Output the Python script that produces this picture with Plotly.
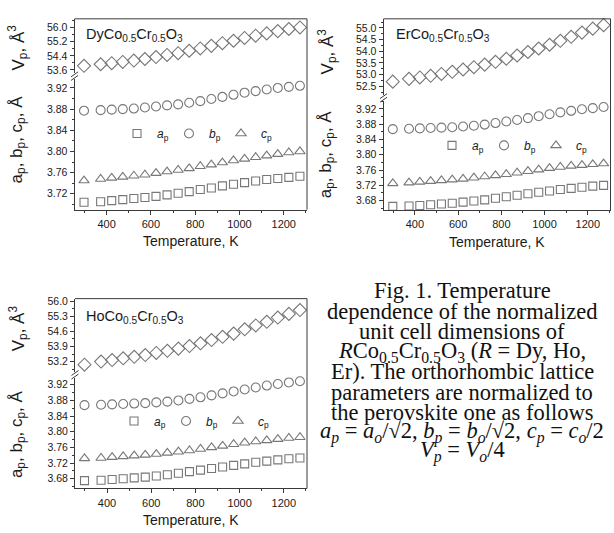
import plotly.graph_objects as go

W, H = 614, 533

# ---------------- data ----------------
temperature = [298, 373, 423, 473, 523, 573, 623, 673, 723, 773,
               823, 873, 923, 973, 1023, 1073, 1123, 1173, 1223, 1273]

dy_a = [3.704, 3.705, 3.707, 3.709, 3.711, 3.713, 3.715, 3.718, 3.721, 3.724,
        3.728, 3.731, 3.735, 3.738, 3.741, 3.744, 3.747, 3.749, 3.751, 3.753]
dy_b = [3.877, 3.878, 3.879, 3.880, 3.881, 3.883, 3.885, 3.887, 3.889, 3.892,
        3.895, 3.899, 3.903, 3.907, 3.911, 3.914, 3.917, 3.920, 3.922, 3.924]
dy_c = [3.745, 3.748, 3.750, 3.752, 3.754, 3.756, 3.759, 3.762, 3.765, 3.768,
        3.772, 3.775, 3.779, 3.783, 3.786, 3.789, 3.792, 3.795, 3.798, 3.800]
dy_V = [53.83, 53.92, 53.98, 54.05, 54.13, 54.22, 54.33, 54.45, 54.55, 54.69,
        54.82, 54.97, 55.12, 55.26, 55.42, 55.55, 55.68, 55.81, 55.93, 56.02]

er_a = [3.665, 3.666, 3.667, 3.669, 3.671, 3.673, 3.676, 3.679, 3.682, 3.686,
        3.690, 3.694, 3.698, 3.702, 3.705, 3.709, 3.712, 3.715, 3.718, 3.720]
er_b = [3.867, 3.868, 3.869, 3.870, 3.871, 3.872, 3.874, 3.876, 3.879, 3.883,
        3.887, 3.891, 3.896, 3.901, 3.906, 3.911, 3.915, 3.919, 3.922, 3.925]
er_c = [3.725, 3.727, 3.729, 3.731, 3.733, 3.735, 3.737, 3.740, 3.743, 3.746,
        3.749, 3.753, 3.757, 3.761, 3.765, 3.768, 3.771, 3.773, 3.775, 3.777]
er_V = [52.70, 52.82, 52.88, 52.95, 53.03, 53.12, 53.22, 53.32, 53.43, 53.55,
        53.68, 53.82, 53.97, 54.12, 54.28, 54.45, 54.62, 54.80, 54.97, 55.12]

ho_a = [3.675, 3.676, 3.678, 3.680, 3.682, 3.684, 3.687, 3.690, 3.694, 3.698,
        3.702, 3.706, 3.710, 3.714, 3.718, 3.722, 3.725, 3.728, 3.731, 3.733]
ho_b = [3.868, 3.869, 3.870, 3.871, 3.872, 3.873, 3.875, 3.877, 3.880, 3.884,
        3.888, 3.893, 3.898, 3.903, 3.908, 3.913, 3.918, 3.922, 3.926, 3.929]
ho_c = [3.732, 3.733, 3.735, 3.737, 3.739, 3.741, 3.743, 3.746, 3.749, 3.752,
        3.756, 3.760, 3.764, 3.768, 3.772, 3.775, 3.778, 3.781, 3.784, 3.786]
ho_V = [53.05, 53.20, 53.27, 53.35, 53.42, 53.50, 53.60, 53.70, 53.80, 53.92,
        54.05, 54.20, 54.35, 54.50, 54.70, 54.88, 55.05, 55.25, 55.42, 55.60]

compound_labels = ["DyCo<sub>0.5</sub>Cr<sub>0.5</sub>O<sub>3</sub>",
                   "ErCo<sub>0.5</sub>Cr<sub>0.5</sub>O<sub>3</sub>",
                   "HoCo<sub>0.5</sub>Cr<sub>0.5</sub>O<sub>3</sub>"]
series_names = ["<i>a</i><sub>p</sub>", "<i>b</i><sub>p</sub>", "<i>c</i><sub>p</sub>"]
x_title = "Temperature, K"
y_title_lower = "a<sub>p</sub>, b<sub>p</sub>, c<sub>p</sub>, Å"
y_title_upper = "V<sub>p</sub>, Å<sup>3</sup>"

caption_lines = [
    "Fig. 1. Temperature",
    "dependence of the normalized",
    "unit cell dimensions of",
    "<i>R</i>Co<sub>0.5</sub>Cr<sub>0.5</sub>O<sub>3</sub> (<i>R</i> = Dy, Ho,",
    "Er). The orthorhombic lattice",
    "parameters are normalized to",
    "the perovskite one as follows",
    "<i>a<sub>p</sub></i> = <i>a<sub>o</sub></i>/√2, <i>b<sub>p</sub></i> = <i>b<sub>o</sub></i>/√2, "
    "<i>c<sub>p</sub></i> = <i>c<sub>o</sub></i>/2",
    "<i>V<sub>p</sub></i> = <i>V<sub>o</sub></i>/4",
]

# ---------------- layout (pixel geometry) ----------------
def fx(p):
    return p / W


def fy(p):
    return 1 - p / H


panels = [
    dict(a=dy_a, b=dy_b, c=dy_c, V=dy_V, label=compound_labels[0],
         xpx=(74.5, 307), up=(15, 70), lo=(76, 208),
         urange=[53.41, 56.51], lrange=[3.690, 3.9366], utick0=53.6, udtick=0.8,
         title_x=18, up_title_y=44, lo_title_y=137, xtitle_y=240,
         label_xy=(84, 31), legend_xy=(117, 131)),
    dict(a=er_a, b=er_b, c=er_c, V=er_V, label=compound_labels[1],
         xpx=(383.5, 610.5), up=(15, 92), lo=(98, 208.5),
         urange=[52.13, 55.39], lrange=[3.655, 3.941], utick0=52.5, udtick=0.5,
         title_x=327, up_title_y=48, lo_title_y=152, xtitle_y=241,
         label_xy=(394, 31), legend_xy=(432, 143)),
    dict(a=ho_a, b=ho_b, c=ho_c, V=ho_V, label=compound_labels[2],
         xpx=(75, 307), up=(298, 372), lo=(378, 490),
         urange=[52.72, 56.13], lrange=[3.655, 3.938], utick0=53.2, udtick=0.7,
         title_x=18, up_title_y=328, lo_title_y=435, xtitle_y=522,
         label_xy=(84, 317), legend_xy=(114, 421.7)),
]

FONT = "Liberation Sans, Arial, sans-serif"
SERIF = "Liberation Serif, Times New Roman, serif"
LINE = "#3a3a3a"
MK = "#777777"
TXT = "#1a1a1a"
styles = [("a", "square-open", 8), ("b", "circle-open", 9), ("c", "triangle-up-open", 9)]

fig = go.Figure()
layout = dict(width=W, height=H, margin=dict(l=0, r=0, t=0, b=0),
              paper_bgcolor="white", plot_bgcolor="white", showlegend=True)
shapes = []
annotations = []

for i, p in enumerate(panels):
    xn = "x" if i == 0 else f"x{i + 1}"
    ylo = "y" if i == 0 else f"y{2 * i + 1}"
    yup = f"y{2 * i + 2}"
    leg = "legend" if i == 0 else f"legend{i + 1}"
    for (key, sym, size), nm in zip(styles, series_names):
        fig.add_trace(go.Scatter(
            x=temperature, y=p[key], mode="markers", name=nm, xaxis=xn, yaxis=ylo,
            legend=leg, cliponaxis=False,
            marker=dict(symbol=sym, size=size, color=MK, line=dict(width=1.1, color=MK))))
    fig.add_trace(go.Scatter(
        x=temperature, y=p["V"], mode="markers", xaxis=xn, yaxis=yup, showlegend=False,
        cliponaxis=False,
        marker=dict(symbol="diamond-open", size=10, color=MK, line=dict(width=1.1, color=MK))))

    x0, x1 = p["xpx"]
    common = dict(showline=True, linecolor=LINE, linewidth=1, ticks="outside", ticklen=4,
                  tickcolor=LINE, tickwidth=1, showgrid=False, zeroline=False,
                  tickfont=dict(family=FONT, size=11, color=TXT))
    layout["xaxis" if i == 0 else f"xaxis{i + 1}"] = dict(
        common, domain=[fx(x0), fx(x1)], range=[255, 1305], anchor=ylo,
        tick0=0, dtick=200,
        minor=dict(ticks="outside", ticklen=2, dtick=100, tick0=0, tickcolor=LINE, showgrid=False))
    layout["yaxis" if i == 0 else f"yaxis{2 * i + 1}"] = dict(
        common, domain=[fy(p["lo"][1]), fy(p["lo"][0])], range=p["lrange"], anchor=xn,
        tick0=3.68, dtick=0.04, tickformat=".2f",
        tickfont=dict(family=FONT, size=10.5, color=TXT),
        minor=dict(ticks="outside", ticklen=2, dtick=0.02, tick0=3.68, tickcolor=LINE, showgrid=False))
    layout[f"yaxis{2 * i + 2}"] = dict(
        common, domain=[fy(p["up"][1]), fy(p["up"][0])], range=p["urange"], anchor=xn,
        tick0=p["utick0"], dtick=p["udtick"], tickformat=".1f",
        tickfont=dict(family=FONT, size=10.5, color=TXT),
        minor=dict(ticks="outside", ticklen=2, dtick=p["udtick"] / 2, tick0=p["utick0"],
                   tickcolor=LINE, showgrid=False))

    top, bot = p["up"][0], p["lo"][1]
    shapes.append(dict(type="line", xref="paper", yref="paper", x0=fx(x0), x1=fx(x1),
                       y0=fy(top), y1=fy(top), line=dict(color=LINE, width=1)))
    shapes.append(dict(type="line", xref="paper", yref="paper", x0=fx(x1), x1=fx(x1),
                       y0=fy(top), y1=fy(bot), line=dict(color=LINE, width=1)))
    gap = (p["up"][1] + p["lo"][0]) / 2
    for off in (-1.8, 1.8):
        shapes.append(dict(type="line", xref="paper", yref="paper",
                           x0=fx(x0 - 3.5), x1=fx(x0 + 3.5),
                           y0=fy(gap + off + 2.5), y1=fy(gap + off - 2.5),
                           line=dict(color=LINE, width=1)))

    annotations.append(dict(text=p["label"], xref="paper", yref="paper",
                            x=fx(p["label_xy"][0]), y=fy(p["label_xy"][1]),
                            xanchor="left", yanchor="middle", showarrow=False,
                            font=dict(family=FONT, size=14.5, color=TXT)))
    annotations.append(dict(text=y_title_upper, xref="paper", yref="paper",
                            x=fx(p["title_x"]), y=fy(p["up_title_y"]), textangle=-90,
                            xanchor="center", yanchor="middle", showarrow=False,
                            font=dict(family=FONT, size=17, color=TXT)))
    annotations.append(dict(text=y_title_lower, xref="paper", yref="paper",
                            x=fx(p["title_x"]), y=fy(p["lo_title_y"]), textangle=-90,
                            xanchor="center", yanchor="middle", showarrow=False,
                            font=dict(family=FONT, size=17, color=TXT)))
    annotations.append(dict(text=x_title, xref="paper", yref="paper",
                            x=fx((x0 + x1) / 2), y=fy(p["xtitle_y"]),
                            xanchor="center", yanchor="middle", showarrow=False,
                            font=dict(family=FONT, size=14, color=TXT)))
    layout[leg] = dict(orientation="h", x=fx(p["legend_xy"][0]), y=fy(p["legend_xy"][1]),
                       xanchor="left", yanchor="middle", bgcolor="rgba(0,0,0,0)",
                       borderwidth=0, font=dict(family=FONT, size=12, color=TXT),
                       entrywidth=7, entrywidthmode="pixels", itemsizing="trace")

caption_y = [290, 310.5, 331, 351.5, 372, 392.5, 413, 433, 453]
for line, yy in zip(caption_lines, caption_y):
    annotations.append(dict(text=line, xref="paper", yref="paper", x=fx(462), y=fy(yy),
                            xanchor="center", yanchor="middle", showarrow=False,
                            font=dict(family=SERIF, size=22.5, color="#111")))

layout["shapes"] = shapes
layout["annotations"] = annotations
fig.update_layout(**layout)
fig.write_html("out.html")
